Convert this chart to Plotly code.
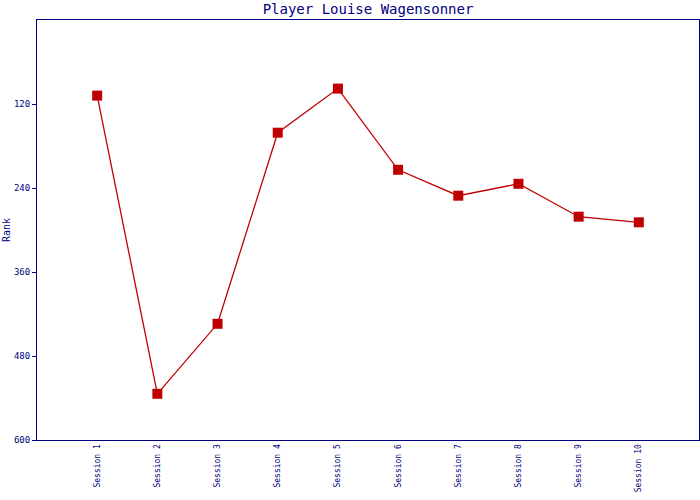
import plotly.graph_objects as go

sessions = ["Session 1", "Session 2", "Session 3", "Session 4", "Session 5",
            "Session 6", "Session 7", "Session 8", "Session 9", "Session 10"]
ranks = [108, 534, 434, 161, 98, 214, 251, 234, 281, 289]
y_ticks = [120, 240, 360, 480, 600]

navy = "#000080"
red = "#C00000"
font = "DejaVu Sans Mono"

fig = go.Figure()
fig.add_trace(go.Scatter(
    x=sessions, y=ranks, mode="lines+markers",
    line=dict(color=red, width=1.3),
    marker=dict(symbol="square", size=10, color=red),
    showlegend=False,
))

fig.update_layout(
    width=700, height=500, autosize=False,
    margin=dict(l=37, r=1, t=20, b=60, autoexpand=False),
    paper_bgcolor="white", plot_bgcolor="white",
    title=dict(text="Player Louise Wagensonner", x=0.5, xanchor="center",
               xref="paper", yref="container", y=0.982, yanchor="middle",
               font=dict(family=font, size=14, color=navy)),
    xaxis=dict(
        type="category", range=[-1, 10], automargin=False,
        showgrid=False, zeroline=False,
        showline=True, linecolor=navy, linewidth=1, mirror=True,
        ticks="", tickangle=-90,
        tickfont=dict(family=font, size=8, color=navy),
    ),
    yaxis=dict(
        range=[600, 0], tickvals=y_ticks, automargin=False,
        showgrid=False, zeroline=False,
        showline=True, linecolor=navy, linewidth=1, mirror=True,
        ticks="outside", ticklen=4, tickcolor=navy,
        tickfont=dict(family=font, size=9, color=navy),
        title=dict(text="Rank", font=dict(family=font, size=10, color=navy), standoff=1),
    ),
)

fig.write_html(
    "out.html",
    config={"responsive": False, "displayModeBar": False},
    post_script="document.body.style.margin='0';document.body.style.overflow='hidden';",
)
